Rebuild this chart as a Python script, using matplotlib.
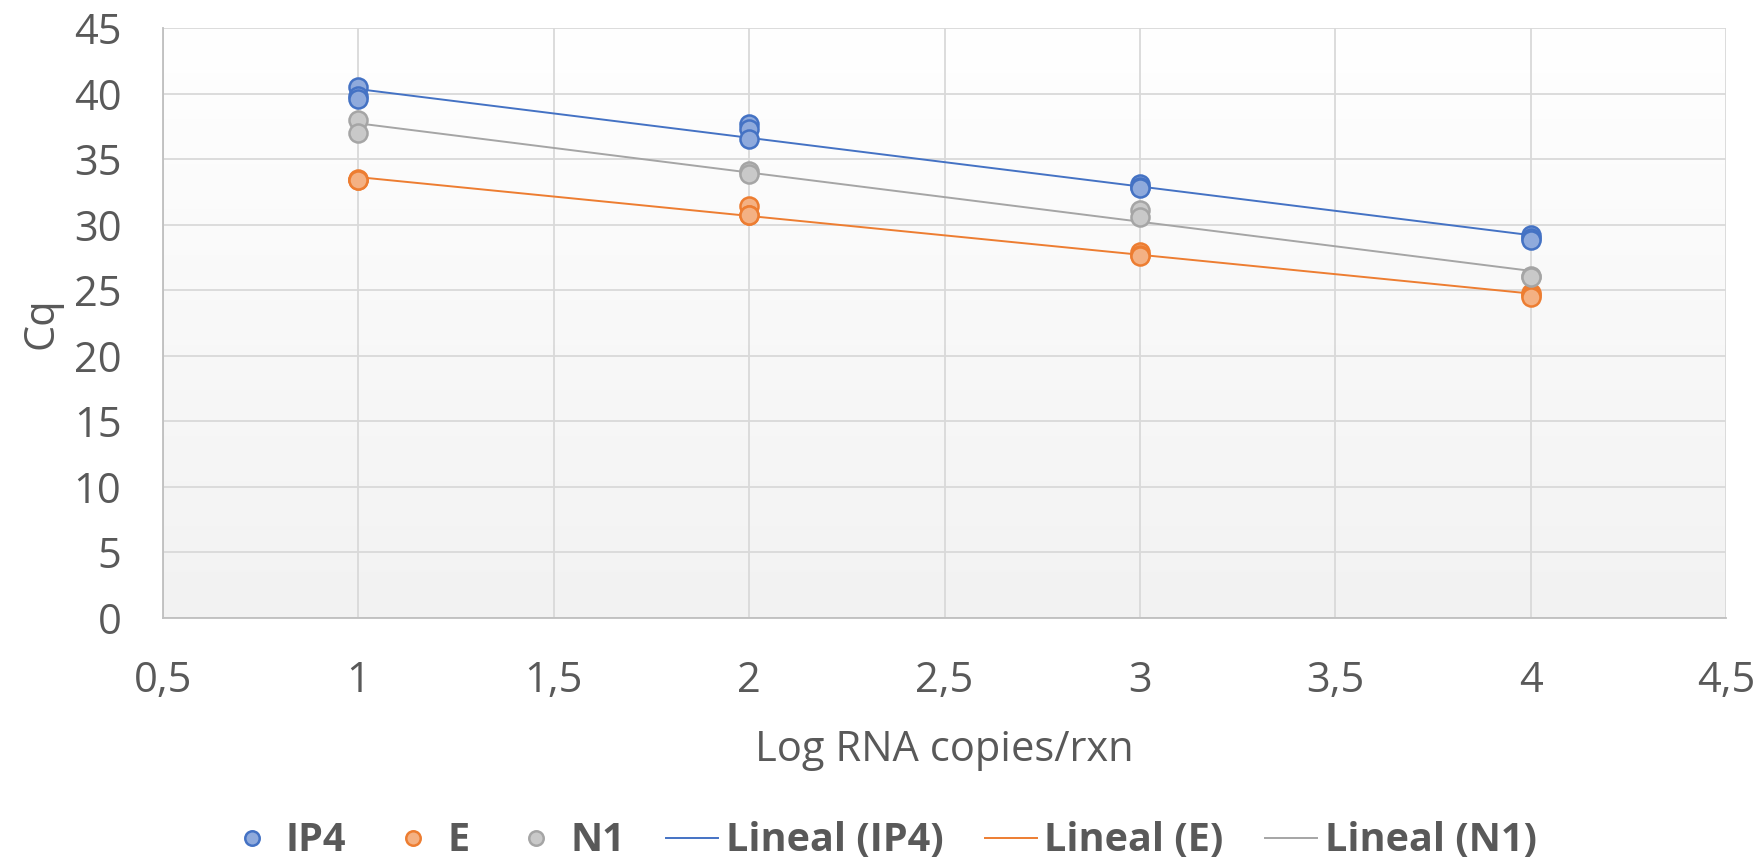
import numpy as np
import matplotlib
matplotlib.use("Agg")
import matplotlib.pyplot as plt
from matplotlib.colors import LinearSegmentedColormap

plt.rcParams['font.family'] = ['Open Sans', 'DejaVu Sans']

# datos
x_ip4 = [1, 1, 1, 2, 2, 2, 3, 3, 3, 4, 4, 4]
y_ip4 = [40.5, 39.8, 39.6, 37.7, 37.3, 36.5, 33.1, 32.9, 32.8, 29.2, 29.0, 28.8]
x_e = [1, 1, 1, 2, 2, 2, 3, 3, 3, 4, 4, 4]
y_e = [33.5, 33.4, 33.4, 31.4, 30.7, 30.7, 27.9, 27.7, 27.6, 24.8, 24.6, 24.5]
x_n1 = [1, 1, 2, 2, 3, 3, 4, 4]
y_n1 = [38.0, 37.0, 34.1, 33.9, 31.1, 30.6, 26.1, 26.0]

xticks = [0.5, 1, 1.5, 2, 2.5, 3, 3.5, 4, 4.5]
xtick_labels = ["0,5", "1", "1,5", "2", "2,5", "3", "3,5", "4", "4,5"]
yticks = [0, 5, 10, 15, 20, 25, 30, 35, 40, 45]

series = [
    ("IP4", x_ip4, y_ip4, "#4472C4", "#8FAADC"),
    ("E", x_e, y_e, "#ED7D31", "#F4B183"),
    ("N1", x_n1, y_n1, "#A5A5A5", "#C9C9C9"),
]

fig = plt.figure(figsize=(17.63, 8.66), dpi=100)
ax = fig.add_axes([0.0925, 0.2864, 0.8865, 0.6813])

# fondo degradado
grad = LinearSegmentedColormap.from_list("g", ["#F2F2F2", "#FFFFFF"])
ax.imshow(np.linspace(0, 1, 256).reshape(-1, 1), aspect="auto", cmap=grad,
          extent=[0.5, 4.5, 0, 45], origin="lower", zorder=0)

puntos = []
lineas = []
for nombre, xs, ys, borde, relleno in series:
    h, = ax.plot(xs, ys, "o", ms=13, mfc=relleno, mec=borde, mew=1.8,
                 label=nombre, zorder=4)
    puntos.append(h)
    m, b = np.polyfit(xs, ys, 1)
    xx = np.array([min(xs), max(xs)])
    l, = ax.plot(xx, m * xx + b, color=borde, lw=1.4,
                 label="Lineal (%s)" % nombre, zorder=3)
    lineas.append(l)

ax.set_xlim(0.5, 4.5)
ax.set_ylim(0, 45)
ax.set_xticks(xticks)
ax.set_xticklabels(xtick_labels)
ax.set_yticks(yticks)
ax.grid(True, color="#D9D9D9", lw=1.3, zorder=1)
ax.set_axisbelow(True)
ax.tick_params(length=0, labelsize=30, labelcolor="#595959")
ax.tick_params(axis="x", pad=30)
ax.tick_params(axis="y", pad=30)
for s in ["top", "right"]:
    ax.spines[s].set_visible(False)
for s in ["left", "bottom"]:
    ax.spines[s].set_color("#BFBFBF")
    ax.spines[s].set_linewidth(1.3)

ax.set_xlabel("Log RNA copies/rxn", fontsize=30, color="#595959", labelpad=20)
ax.set_ylabel("Cq", fontsize=30, color="#595959", labelpad=8)

fig.legend(puntos + lineas, [h.get_label() for h in puntos + lineas],
           loc="center", bbox_to_anchor=(0.5, 0.029), ncol=6, frameon=False,
           markerscale=0.8, handlelength=1.3, handletextpad=0.2, columnspacing=1.05,
           prop={"size": 28.5, "weight": "bold"}, labelcolor="#595959")

plt.savefig("out.png", dpi=100)
